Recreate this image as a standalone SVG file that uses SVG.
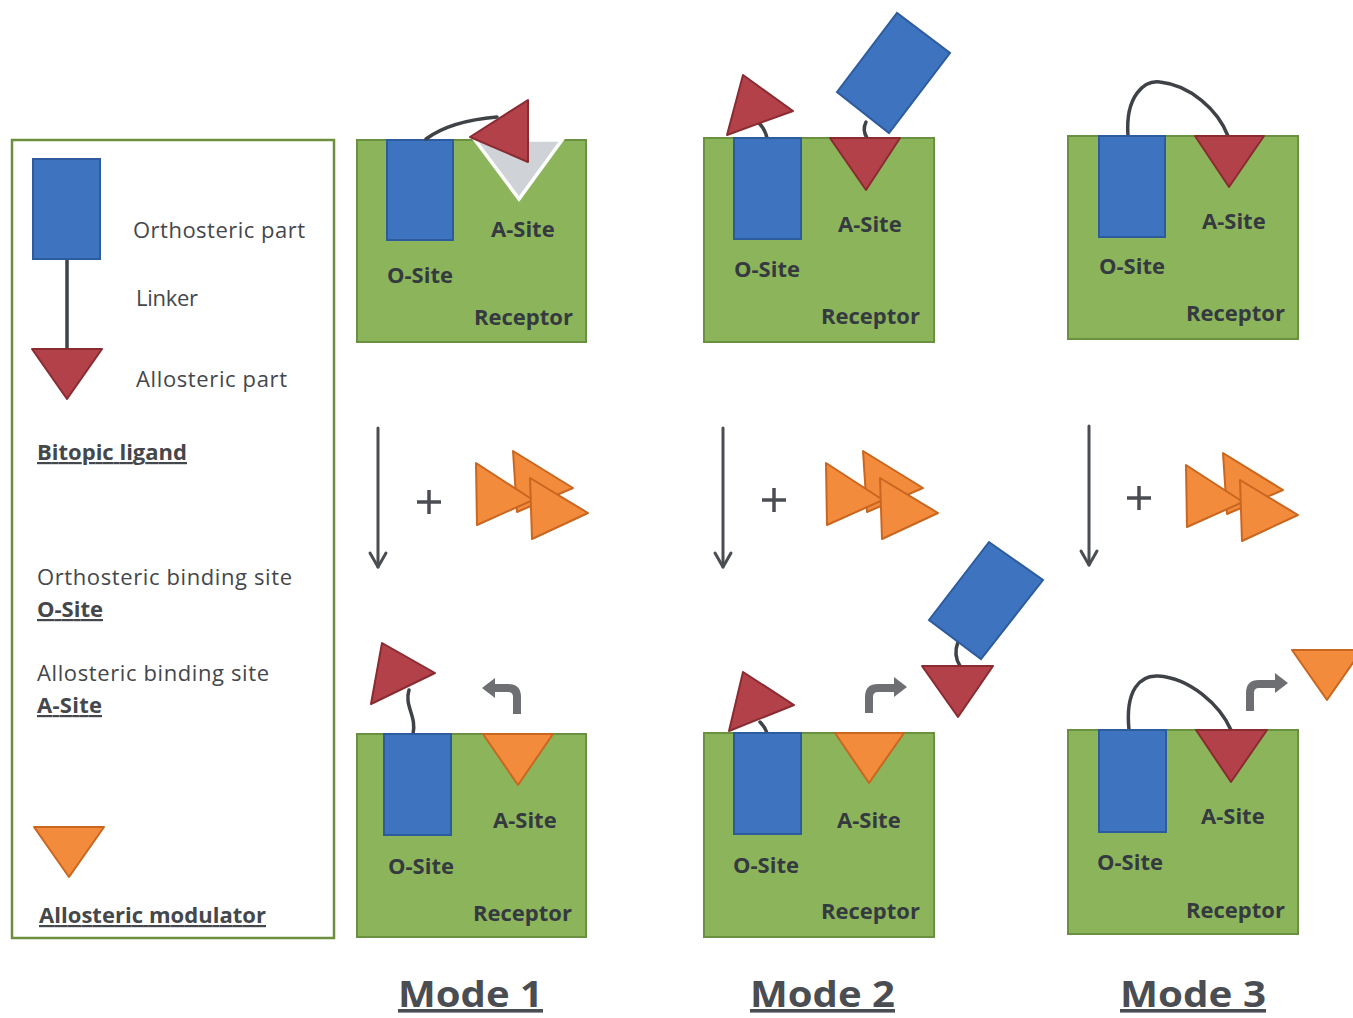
<svg xmlns="http://www.w3.org/2000/svg" width="1353" height="1018" viewBox="0 0 1353 1018">
<style>
.rec{fill:#8cb55b;stroke:#6a9140;stroke-width:2}
.blu{fill:#3e73bf;stroke:#2d5c9e;stroke-width:2}
.red{fill:#b2414a;stroke:#8a2b32;stroke-width:2;stroke-linejoin:round}
.org{fill:#f38b3d;stroke:#c9661f;stroke-width:2;stroke-linejoin:round}
.lnk{fill:none;stroke:#3f4347;stroke-width:3.5;stroke-linecap:round}
.lab{font-family:"Open Sans","Liberation Sans",sans-serif;font-weight:bold;font-size:22px;fill:#353a40}
.leg{font-family:"Open Sans","Liberation Sans",sans-serif;font-size:22px;fill:#44474b}
.legb{font-family:"Open Sans","Liberation Sans",sans-serif;font-size:22px;font-weight:bold;fill:#44474b;text-decoration:underline}
.mode{font-family:"Open Sans","Liberation Sans",sans-serif;font-size:36px;font-weight:bold;fill:#4a4d51;text-decoration:underline}
.down{fill:none;stroke:#4a4d51;stroke-width:3;stroke-linecap:round;stroke-linejoin:round}
.plus{stroke:#4a4d51;stroke-width:3.5}
.bend{fill:none;stroke:#6d6f72;stroke-width:8}
.bendh{fill:#6d6f72}
</style>
<rect width="1353" height="1018" fill="#ffffff"/>

<g id="legend">
<rect x="12" y="140" width="322" height="798" fill="#ffffff" stroke="#6e8f3e" stroke-width="2.5"/>
<line x1="67" y1="259" x2="67" y2="350" class="lnk"/>
<rect x="33" y="159" width="67" height="100" class="blu"/>
<polygon points="32,349 102,349 67,399" class="red"/>
<text x="133" y="238" class="leg" textLength="172">Orthosteric part</text>
<text x="136" y="306" class="leg" textLength="62">Linker</text>
<text x="136" y="387" class="leg" textLength="151">Allosteric part</text>
<text x="37" y="460" class="legb" textLength="150">Bitopic ligand</text>
<text x="37" y="585" class="leg" textLength="255">Orthosteric binding site</text>
<text x="37" y="617" class="legb" textLength="66">O-Site</text>
<text x="37" y="681" class="leg" textLength="232">Allosteric binding site</text>
<text x="37" y="713" class="legb" textLength="65">A-Site</text>
<polygon points="34,827 104,827 69,877" class="org"/>
<text x="39" y="923" class="legb" textLength="227">Allosteric modulator</text>
</g>

<g id="mode1-top">
<rect x="357" y="140" width="229" height="202" class="rec"/>
<rect x="387" y="140" width="66" height="100" class="blu"/>
<polygon points="475,140 562,140 519,199" fill="#cfd2d6" stroke="#ffffff" stroke-width="3.5"/>
<path d="M426,139 Q450,121 497,117" class="lnk"/>
<polygon points="470,137 528,100 528,162" class="red"/>
<text x="491" y="237" class="lab">A-Site</text>
<text x="387" y="283" class="lab">O-Site</text>
<text x="474" y="325" class="lab">Receptor</text>
</g>

<g id="mode2-top">
<rect x="704" y="138" width="230" height="204" class="rec"/>
<path d="M767,138 Q765,129 759,123" class="lnk"/>
<rect x="734" y="138" width="67" height="101" class="blu"/>
<polygon points="727,135 743,75 793,111" class="red"/>
<path d="M867,138 Q862,130 866,122" class="lnk"/>
<polygon points="837,92 897,13 950,53 889,133" class="blu"/>
<polygon points="830,138 900,138 866,190" class="red"/>
<text x="838" y="232" class="lab">A-Site</text>
<text x="734" y="277" class="lab">O-Site</text>
<text x="821" y="324" class="lab">Receptor</text>
</g>

<g id="mode3-top">
<rect x="1068" y="136" width="230" height="203" class="rec"/>
<path d="M1128,136 C1125,95 1145,80 1160,82 C1190,85 1218,110 1228,136" class="lnk"/>
<rect x="1099" y="136" width="66" height="101" class="blu"/>
<polygon points="1195,136 1264,136 1229,187" class="red"/>
<text x="1202" y="229" class="lab">A-Site</text>
<text x="1099" y="274" class="lab">O-Site</text>
<text x="1186" y="321" class="lab">Receptor</text>
</g>

<g id="modulators-1">
<polygon points="513,451 517,512 573,488" class="org"/>
<polygon points="476,463 477,525 533,500" class="org"/>
<polygon points="530,478 532,539 588,513" class="org"/>
</g>
<g id="modulators-2">
<polygon points="863,451 867,512 923,488" class="org"/>
<polygon points="826,463 827,525 883,500" class="org"/>
<polygon points="880,478 882,539 938,513" class="org"/>
</g>
<g id="modulators-3">
<polygon points="1223,453 1227,514 1283,490" class="org"/>
<polygon points="1186,465 1187,527 1243,502" class="org"/>
<polygon points="1240,480 1242,541 1298,515" class="org"/>
</g>

<g id="mode1-bottom">
<rect x="357" y="734" width="229" height="203" class="rec"/>
<path d="M413,734 C417,716 404,706 409,690" class="lnk"/>
<rect x="384" y="734" width="67" height="101" class="blu"/>
<polygon points="371,704 382,643 435,673" class="red"/>
<polygon points="483,734 553,734 518,785" class="org"/>
<text x="493" y="828" class="lab">A-Site</text>
<text x="388" y="874" class="lab">O-Site</text>
<text x="473" y="921" class="lab">Receptor</text>
</g>

<g id="mode2-bottom">
<rect x="704" y="733" width="230" height="204" class="rec"/>
<path d="M767,733 Q765,727 760,722" class="lnk"/>
<rect x="734" y="733" width="67" height="101" class="blu"/>
<polygon points="729,731 743,672 794,705" class="red"/>
<polygon points="835,733 904,733 869,783" class="org"/>
<path d="M960,666 Q953,655 958,642" class="lnk"/>
<polygon points="929,620 989,542 1043,580 981,659" class="blu"/>
<polygon points="922,666 993,666 958,717" class="red"/>
<text x="837" y="828" class="lab">A-Site</text>
<text x="733" y="873" class="lab">O-Site</text>
<text x="821" y="919" class="lab">Receptor</text>
</g>

<g id="mode3-bottom">
<rect x="1068" y="730" width="230" height="204" class="rec"/>
<path d="M1129,730 C1125,690 1140,675 1158,676 C1190,678 1220,705 1231,730" class="lnk"/>
<rect x="1099" y="730" width="67" height="102" class="blu"/>
<polygon points="1196,730 1267,730 1231,782" class="red"/>
<polygon points="1292,650 1362,650 1327,700" class="org"/>
<text x="1201" y="824" class="lab">A-Site</text>
<text x="1097" y="870" class="lab">O-Site</text>
<text x="1186" y="918" class="lab">Receptor</text>
</g>

<g id="connectors">
<line x1="378" y1="428" x2="378" y2="567" class="down"/>
<polyline points="370,553 378,567 386,553" class="down"/>
<line x1="417" y1="502" x2="441" y2="502" class="plus"/>
<line x1="429" y1="490" x2="429" y2="514" class="plus"/>

<line x1="723" y1="428" x2="723" y2="567" class="down"/>
<polyline points="715,553 723,567 731,553" class="down"/>
<line x1="762" y1="500" x2="786" y2="500" class="plus"/>
<line x1="774" y1="488" x2="774" y2="512" class="plus"/>

<line x1="1089" y1="426" x2="1089" y2="565" class="down"/>
<polyline points="1081,551 1089,565 1097,551" class="down"/>
<line x1="1127" y1="498" x2="1151" y2="498" class="plus"/>
<line x1="1139" y1="486" x2="1139" y2="510" class="plus"/>

<path d="M517,714 L517,697 Q517,688 508,688 L494,688" class="bend"/>
<polygon points="482,688 495,678 495,698" class="bendh"/>
<path d="M869,713 L869,697 Q869,688 878,688 L894,688" class="bend"/>
<polygon points="907,687 894,677 894,697" class="bendh"/>
<path d="M1250,711 L1250,693 Q1250,684 1259,684 L1275,684" class="bend"/>
<polygon points="1288,683 1275,673 1275,693" class="bendh"/>
</g>

<g id="titles">
<text x="398" y="1007" class="mode" textLength="145" lengthAdjust="spacingAndGlyphs">Mode 1</text>
<text x="750" y="1007" class="mode" textLength="145" lengthAdjust="spacingAndGlyphs">Mode 2</text>
<text x="1120" y="1007" class="mode" textLength="146" lengthAdjust="spacingAndGlyphs">Mode 3</text>
</g>
</svg>
